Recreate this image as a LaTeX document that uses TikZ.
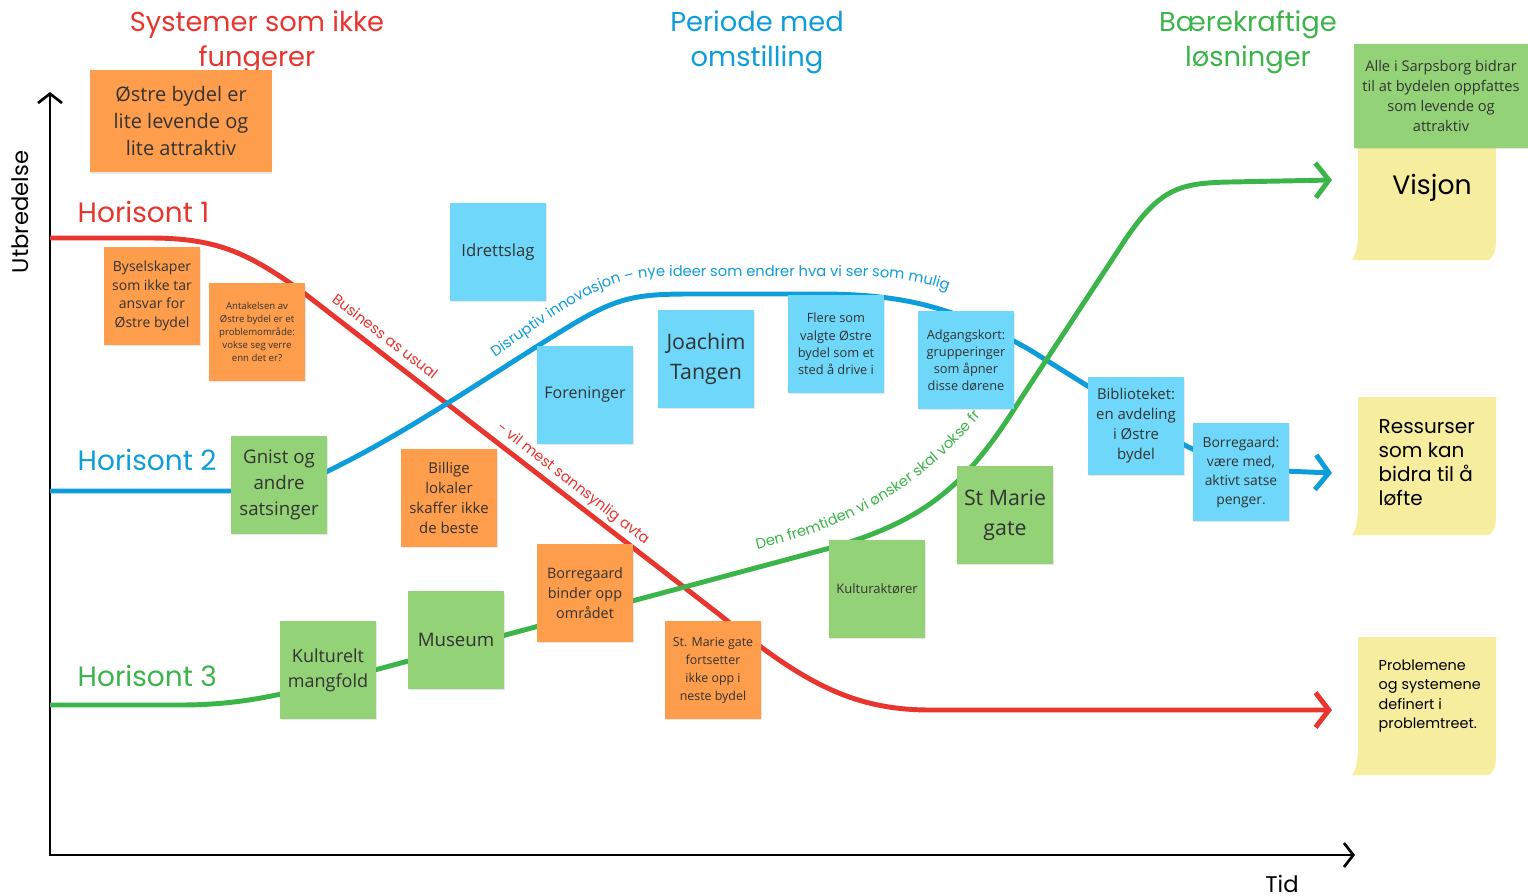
\documentclass[tikz,border=0pt]{standalone}
\usepackage{fontspec}
\setmainfont{Open Sans}
\newfontfamily\headfont{Poppins}
\usetikzlibrary{arrows.meta,decorations.text,shadows}
\definecolor{hzred}{HTML}{E8352E}
\definecolor{hzblue}{HTML}{0E9DDB}
\definecolor{hzgreen}{HTML}{3BB54A}
\definecolor{postorange}{HTML}{FE9D4B}
\definecolor{postblue}{HTML}{6FD7F9}
\definecolor{postgreen}{HTML}{94D277}
\definecolor{postyellow}{HTML}{F7ED9F}
\definecolor{posttext}{HTML}{333333}
\tikzset{
  post/.style   ={rectangle, minimum width=72pt, minimum height=73pt, inner sep=1pt,
                  align=center, text=posttext, font=\fontsize{10.5}{14}\selectfont,
                  drop shadow={shadow xshift=0.5pt, shadow yshift=-0.9pt, opacity=0.18}},
  porange/.style={post, fill=postorange},
  pblue/.style  ={post, fill=postblue},
  pgreen/.style ={post, fill=postgreen},
  hzline/.style ={line width=3.7pt, line join=round, -{Straight Barb[length=10pt,width=26pt]}},
  axis/.style   ={line width=2pt, {Straight Barb[length=7pt,width=18pt]}-{Straight Barb[length=7pt,width=18pt]}},
  head/.style   ={font=\headfont\fontsize{20.5}{26.5}\selectfont, align=center},
  hzlabel/.style={font=\headfont\fontsize{21}{24}\selectfont, anchor=west},
  ylabel/.style ={font=\headfont\fontsize{17}{20}\selectfont, text=black},
  ytext/.style  ={font=\headfont, text=black, align=left, anchor=north west},
}
\newcommand{\pathfont}{\headfont\fontsize{11}{13}\selectfont}
\newcommand{\stickynote}[2]{%
  \fill[postyellow] (1358,#1) -- (1496,#1) -- (1496,#2-20)
    .. controls (1496,#2-8) and (1493,#2-3) .. (1489,#2) -- (1352,#2)
    .. controls (1356,#2-5) and (1358,#2-14) .. (1358,#2-30) -- cycle;}

\begin{document}
\begin{tikzpicture}[x=0.75pt, y=-0.75pt]
  \useasboundingbox (0,0) rectangle (1528,896);
  \draw[axis] (50,92) -- (50,855) -- (1355,855);
  \node[ylabel, rotate=90] (ut) at (20,212) {Utbredelse};
  \node[ylabel] (tid) at (1282,884) {Tid};

  \node[head, text=hzred]   (h1) at (257,42)  {Systemer som ikke\\fungerer};
  \node[head, text=hzblue]  (h2) at (757,42)  {Periode med\\omstilling};
  \node[head, text=hzgreen] (h3) at (1248,42) {Bærekraftige\\løsninger};

  \node[hzlabel, text=hzred]   (hz1) at (73,212) {Horisont 1};
  \node[hzlabel, text=hzblue]  (hz2) at (73,460) {Horisont 2};
  \node[hzlabel, text=hzgreen] (hz3) at (73,676) {Horisont 3};

  \draw[hzline, hzred] (50,238) -- (150,238) .. controls (220,238) and (250,255) .. (300,290)
    -- (720,615) .. controls (800,680) and (850,710) .. (930,710) -- (1332,710);
  \draw[hzline, hzblue] (50,491) -- (250,491) .. controls (290,491) and (310,480) .. (340,465)
    .. controls (420,425) and (520,355) .. (580,320) .. controls (620,297) and (640,294) .. (690,294)
    -- (820,294) .. controls (910,294) and (960,310) .. (1030,350) -- (1110,400)
    .. controls (1150,425) and (1200,462) .. (1260,470) -- (1332,473);
  \draw[hzline, hzgreen] (50,705) -- (180,705) .. controls (240,705) and (280,695) .. (330,682)
    -- (830,548) .. controls (930,520) and (970,480) .. (1020,400) -- (1125,240)
    .. controls (1160,188) and (1180,183) .. (1230,182) -- (1332,180);

  \path[decorate, decoration={text along path, text align=left, text color=hzred,
    text={|\pathfont|Business as usual}}] (331,301) -- (465,405);
  \path[decorate, decoration={text along path, text align=left, text color=hzred,
    text={|\pathfont|- vil mest sannsynlig avta}}] (496,429) -- (680,572);
  \path[decorate, decoration={text along path, text align=left, text color=hzblue,
    text={|\pathfont|Disruptiv innovasjon – nye ideer som endrer hva vi ser som mulig}}]
    (495,357) .. controls (560,312) and (600,278) .. (660,276) -- (860,276)
    .. controls (910,278) and (945,285) .. (995,312);
  \path[decorate, decoration={text along path, text align=left, text color=hzgreen,
    text={|\pathfont|Den fremtiden vi ønsker skal vokse fr}}]
    (757,549) .. controls (850,528) and (935,485) .. (1008,380);

  \node[porange, minimum width=136pt, minimum height=77pt, font=\fontsize{15}{20.5}\selectfont]
    (ostre) at (181,121) {Østre bydel er\\lite levende og\\lite attraktiv};
  \node[porange] (bysel) at (152,296) {Byselskaper\\som ikke tar\\ansvar for\\Østre bydel};
  \node[porange, font=\fontsize{7.2}{9.8}\selectfont] (antak) at (257,332)
    {Antakelsen av\\Østre bydel er et\\problemområde:\\vokse seg verre\\enn det er?};
  \node[porange, font=\fontsize{11.2}{15}\selectfont] (billig) at (449,498)
    {Billige\\lokaler\\skaffer ikke\\de beste};
  \node[porange, font=\fontsize{10.8}{15}\selectfont] (borbind) at (585,593)
    {Borregaard\\binder opp\\området};
  \node[porange, font=\fontsize{9.3}{13.5}\selectfont] (stmfort) at (713,670)
    {St. Marie gate\\fortsetter\\ikke opp i\\neste bydel};

  \node[pblue, font=\fontsize{12.5}{14}\selectfont] (idrett) at (498,252) {Idrettslag};
  \node[pblue, font=\fontsize{12}{14}\selectfont] (foren) at (585,395) {Foreninger};
  \node[pblue, font=\fontsize{16}{22.5}\selectfont] (joach) at (706,359) {Joachim\\Tangen};
  \node[pblue, font=\fontsize{9.6}{13}\selectfont] (flere) at (836,344)
    {Flere som\\valgte Østre\\bydel som et\\sted å drive i};
  \node[pblue, font=\fontsize{9.6}{12.8}\selectfont] (adgang) at (966,360)
    {Adgangskort:\\grupperinger\\som åpner\\disse dørene};
  \node[pblue, font=\fontsize{11.2}{15}\selectfont] (bibl) at (1136,426)
    {Biblioteket:\\en avdeling\\i Østre\\bydel};
  \node[pblue, font=\fontsize{10.4}{14.2}\selectfont] (borsats) at (1241,472)
    {Borregaard:\\være med,\\aktivt satse\\penger.};

  \node[pgreen, font=\fontsize{14}{19.5}\selectfont] (gnist) at (279,485) {Gnist og\\andre\\satsinger};
  \node[pgreen, font=\fontsize{13.5}{18.8}\selectfont] (kultmang) at (328,670) {Kulturelt\\mangfold};
  \node[pgreen, font=\fontsize{14}{18}\selectfont] (museum) at (456,640) {Museum};
  \node[pgreen, font=\fontsize{9.8}{12}\selectfont] (kultakt) at (877,589) {Kulturaktører};
  \node[pgreen, font=\fontsize{16}{22.5}\selectfont] (stmgate) at (1005,515) {St Marie\\gate};

  \stickynote{140}{260}
  \stickynote{397}{535}
  \stickynote{637}{775}
  \node[pgreen, minimum width=130pt, minimum height=78pt, font=\fontsize{11}{15}\selectfont]
    (alle) at (1441,96) {Alle i Sarpsborg bidrar\\til at bydelen oppfattes\\som levende og\\attraktiv};
  \node[font=\headfont\fontsize{20}{24}\selectfont, text=black] (visjon) at (1432,188) {Visjon};
  \node[ytext, font=\headfont\fontsize{15}{18}\selectfont] (ressurs) at (1374,415)
    {Ressurser\\som kan\\bidra til å\\løfte};
  \node[ytext, font=\headfont\fontsize{10.8}{14.6}\selectfont] (problem) at (1374,655)
    {Problemene\\og systemene\\definert i\\problemtreet.};
\end{tikzpicture}
\end{document}
